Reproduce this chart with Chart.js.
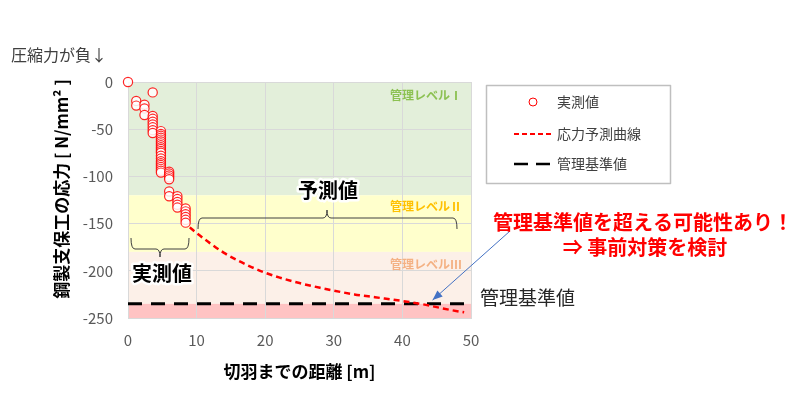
<!DOCTYPE html>
<html>
<head>
<meta charset="utf-8">
<script src="https://cdn.jsdelivr.net/npm/chart.js@4/dist/chart.umd.min.js"></script>
<style>
html, body { margin: 0; padding: 0; background: #fff; }
#wrap { width: 800px; height: 397px; }
</style>
</head>
<body>
<div id="wrap"><canvas id="chart" width="800" height="397"></canvas></div>
<script>
// 実測値 (distance to face [m], stress [N/mm2])
const measuredX = [0, 1.2, 1.2, 2.4, 2.4, 2.4, 3.6, 3.6, 3.6, 3.6, 3.6, 3.6, 3.6, 3.6,
    4.8, 4.8, 4.8, 4.8, 4.8, 4.8, 4.8, 4.8, 4.8, 4.8, 4.8, 4.8, 4.8, 4.8, 4.8, 4.8, 4.8, 4.8, 4.8, 4.8, 4.8,
    6.0, 6.0, 6.0, 6.0, 6.0, 6.0, 6.0,
    7.2, 7.2, 7.2, 7.2, 7.2,
    8.4, 8.4, 8.4, 8.4, 8.4, 8.4];
const measuredY = [0, -20, -25, -24, -28, -35, -11, -36, -39, -42, -45, -48, -51, -54,
    -52, -55, -57, -59, -61, -63, -65, -67, -69, -71, -73, -75, -78, -81, -84, -86, -88, -90, -92, -94, -96,
    -95, -97, -99, -101, -103, -116, -121,
    -121, -124, -127, -130, -133,
    -134, -137, -140, -143, -146, -149];

// 応力予測曲線
const predX = [9, 10, 12, 14, 16, 18, 20, 22, 25, 28, 30, 33, 36, 40, 43, 45, 47, 49];
const predY = [-154, -160, -171, -181, -189, -196, -202, -207, -213, -218, -221, -225, -228, -232, -235.5, -238.5, -241.5, -244];

// 管理基準値
const limitX = [0, 50];
const limitValue = -235;

// 管理レベル bands
const bandEdges = [0, -120, -180, -235, -250];
const bandColors = ['#E3EFDA', '#FFFFCC', '#FCF0E8', '#FFC3C3'];
const bandLabels = ['管理レベルⅠ', '管理レベルⅡ', '管理レベルⅢ'];
const bandLabelColors = ['#8CC152', '#FFC000', '#F4B183'];

const xTicks = [0, 10, 20, 30, 40, 50];
const yTicks = [0, -50, -100, -150, -200, -250];

const FONT = "'Noto Sans CJK JP', 'Noto Sans', sans-serif";

// draw band backgrounds before the grid
const bandPlugin = {
    id: 'bands',
    beforeDraw(chart) {
        const ctx = chart.ctx;
        const area = chart.chartArea;
        const y = chart.scales.y;
        ctx.save();
        for (let i = 0; i < bandColors.length; i++) {
            const top = y.getPixelForValue(bandEdges[i]);
            const bottom = y.getPixelForValue(bandEdges[i + 1]);
            ctx.fillStyle = bandColors[i];
            ctx.fillRect(area.left, top, area.right - area.left, bottom - top);
        }
        ctx.restore();
    }
};

function brace(ctx, x1, x2, y, mid, dir) {
    // dir: 1 = ends go down, center tick up; -1 = opposite
    const r = 4;
    ctx.beginPath();
    ctx.moveTo(x1, y + dir * 11);
    ctx.quadraticCurveTo(x1, y, x1 + r, y);
    ctx.lineTo(mid - r, y);
    ctx.quadraticCurveTo(mid, y, mid, y - dir * 8);
    ctx.quadraticCurveTo(mid, y, mid + r, y);
    ctx.lineTo(x2 - r, y);
    ctx.quadraticCurveTo(x2, y, x2, y + dir * 11);
    ctx.stroke();
}

function haloText(ctx, text, x, y) {
    ctx.lineJoin = 'round';
    ctx.strokeStyle = 'rgba(255,255,255,0.95)';
    ctx.lineWidth = 5;
    ctx.strokeText(text, x, y);
    ctx.fillStyle = '#000';
    ctx.fillText(text, x, y);
}

const notePlugin = {
    id: 'notes',
    afterDraw(chart) {
        const ctx = chart.ctx;
        const xs = chart.scales.x;
        const ys = chart.scales.y;
        ctx.save();

        // band labels
        ctx.font = 'bold 12px ' + FONT;
        ctx.textAlign = 'right';
        ctx.textBaseline = 'middle';
        const labelY = [95, 206, 264];
        bandLabels.forEach((t, i) => {
            ctx.fillStyle = bandLabelColors[i];
            ctx.fillText(t, 462, labelY[i]);
        });

        // y axis title
        ctx.save();
        ctx.translate(62, 189);
        ctx.rotate(-Math.PI / 2);
        ctx.font = 'bold 17px ' + FONT;
        ctx.fillStyle = '#000';
        ctx.textAlign = 'center';
        ctx.textBaseline = 'middle';
        ctx.fillText('鋼製支保工の応力 [ N/mm² ]', 0, 0);
        ctx.restore();

        // top-left note
        ctx.font = '16px ' + FONT;
        ctx.fillStyle = '#404040';
        ctx.textAlign = 'left';
        ctx.textBaseline = 'middle';
        ctx.fillText('圧縮力が負↓', 11, 55);

        // braces
        ctx.strokeStyle = '#404040';
        ctx.lineWidth = 1;
        brace(ctx, 198, 457, 218, 327, 1);
        brace(ctx, 131, 189, 249, 160, -1);

        ctx.font = 'bold 20px ' + FONT;
        ctx.textAlign = 'center';
        ctx.textBaseline = 'middle';
        haloText(ctx, '予測値', 328, 190);
        haloText(ctx, '実測値', 162, 273);

        // legend
        ctx.strokeStyle = '#BFBFBF';
        ctx.lineWidth = 1.5;
        ctx.strokeRect(486.5, 85.5, 184, 98);
        ctx.beginPath();
        ctx.arc(533, 102, 4, 0, Math.PI * 2);
        ctx.fillStyle = '#fff';
        ctx.fill();
        ctx.strokeStyle = '#FF0000';
        ctx.lineWidth = 1;
        ctx.stroke();
        ctx.setLineDash([5, 3]);
        ctx.lineWidth = 2;
        ctx.beginPath();
        ctx.moveTo(514, 134);
        ctx.lineTo(552, 134);
        ctx.stroke();
        ctx.setLineDash([14, 8]);
        ctx.strokeStyle = '#000';
        ctx.lineWidth = 2.5;
        ctx.beginPath();
        ctx.moveTo(514, 164);
        ctx.lineTo(552, 164);
        ctx.stroke();
        ctx.setLineDash([]);
        ctx.font = '14px ' + FONT;
        ctx.fillStyle = '#404040';
        ctx.textAlign = 'left';
        ctx.fillText('実測値', 557, 102);
        ctx.fillText('応力予測曲線', 557, 134);
        ctx.fillText('管理基準値', 557, 164);

        // arrow to the crossing point
        const tipX = xs.getPixelForValue(44.4);
        const tipY = ys.getPixelForValue(-231);
        const fromX = 510, fromY = 231;
        ctx.strokeStyle = '#4472C4';
        ctx.fillStyle = '#4472C4';
        ctx.lineWidth = 1;
        ctx.beginPath();
        ctx.moveTo(fromX, fromY);
        ctx.lineTo(tipX, tipY);
        ctx.stroke();
        const a = Math.atan2(tipY - fromY, tipX - fromX);
        ctx.beginPath();
        ctx.moveTo(tipX, tipY);
        ctx.lineTo(tipX - 10 * Math.cos(a) + 4 * Math.sin(a), tipY - 10 * Math.sin(a) - 4 * Math.cos(a));
        ctx.lineTo(tipX - 10 * Math.cos(a) - 4 * Math.sin(a), tipY - 10 * Math.sin(a) + 4 * Math.cos(a));
        ctx.closePath();
        ctx.fill();

        // red warning
        ctx.font = 'bold 20px ' + FONT;
        ctx.fillStyle = '#FF0000';
        ctx.textAlign = 'center';
        ctx.fillText('管理基準値を超える可能性あり！', 643, 222);
        ctx.fillText('⇒ 事前対策を検討', 645, 247);

        // limit label
        ctx.font = '19px ' + FONT;
        ctx.fillStyle = '#262626';
        ctx.textAlign = 'left';
        ctx.fillText('管理基準値', 480, 298);

        ctx.restore();
    }
};

function makeChart() {
    const ctx = document.getElementById('chart').getContext('2d');

    new Chart(ctx, {
        type: 'scatter',
        data: {
            datasets: [{
                label: '実測値',
                data: measuredX.map((x, i) => ({ x: x, y: measuredY[i] })),
                pointRadius: 4.6,
                pointBackgroundColor: 'rgba(255,255,255,0.85)',
                pointBorderColor: 'rgba(255,0,0,0.85)',
                pointBorderWidth: 1.2,
                clip: false,
                order: 1
            }, {
                label: '応力予測曲線',
                type: 'line',
                data: predX.map((x, i) => ({ x: x, y: predY[i] })),
                borderColor: '#FF0000',
                borderWidth: 2.5,
                borderDash: [6, 4],
                cubicInterpolationMode: 'monotone',
                pointRadius: 0,
                fill: false,
                order: 2
            }, {
                label: '管理基準値',
                type: 'line',
                data: limitX.map(x => ({ x: x, y: limitValue })),
                borderColor: '#000',
                borderWidth: 3,
                borderDash: [14, 9],
                pointRadius: 0,
                fill: false,
                order: 3
            }]
        },
        options: {
            responsive: false,
            animation: false,
            devicePixelRatio: 1,
            layout: { padding: { left: 0, top: 82, right: 329, bottom: 0 } },
            plugins: {
                legend: { display: false },
                tooltip: { enabled: false }
            },
            scales: {
                x: {
                    type: 'linear',
                    min: 0,
                    max: 50,
                    afterFit(scale) { scale.height = 79; },
                    afterBuildTicks(scale) { scale.ticks = xTicks.map(v => ({ value: v })); },
                    grid: { color: '#D9D9D9', drawTicks: false },
                    border: { color: '#D9D9D9' },
                    ticks: { color: '#595959', font: { size: 15, family: FONT }, padding: 13 },
                    title: {
                        display: true,
                        text: '切羽までの距離 [m]',
                        color: '#000',
                        font: { size: 17, weight: 'bold', family: FONT },
                        padding: { bottom: 15 }
                    }
                },
                y: {
                    type: 'linear',
                    min: -250,
                    max: 0,
                    afterFit(scale) { scale.width = 128; },
                    afterBuildTicks(scale) { scale.ticks = yTicks.map(v => ({ value: v })); },
                    grid: { color: '#D9D9D9', drawTicks: false },
                    border: { color: '#D9D9D9' },
                    ticks: { color: '#595959', font: { size: 15, family: FONT }, padding: 15 }
                }
            }
        },
        plugins: [bandPlugin, notePlugin]
    });
}

document.addEventListener('DOMContentLoaded', makeChart);
</script>
</body>
</html>
